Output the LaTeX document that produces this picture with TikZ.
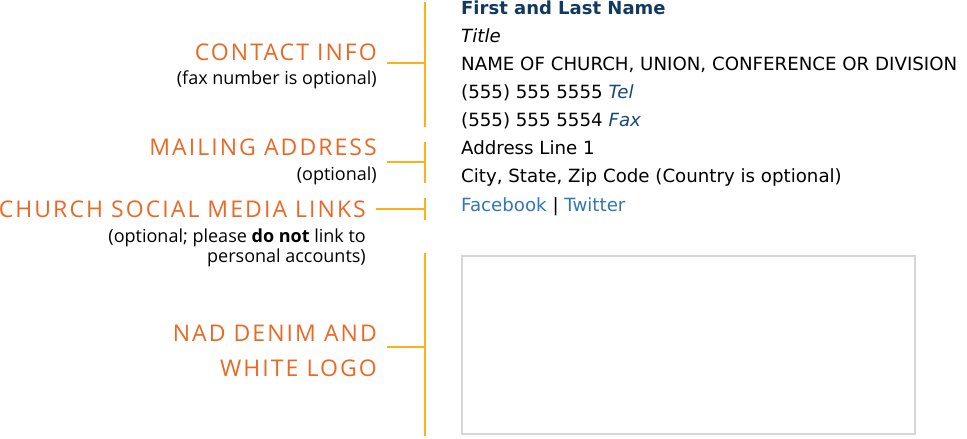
\documentclass[tikz,border=0pt]{standalone}
\usepackage{fontspec}
\setmainfont{Open Sans}
\newfontfamily\sigfont{DejaVu Sans}
\newfontfamily\capsfont[LetterSpace=9]{Open Sans}
\usetikzlibrary{positioning}
\definecolor{labelorange}{RGB}{234,104,36}
\definecolor{bracketgold}{RGB}{252,178,20}
\definecolor{namenavy}{RGB}{18,58,96}
\definecolor{fieldnavy}{RGB}{24,72,122}
\definecolor{linkblue}{RGB}{48,118,184}
\definecolor{boxgray}{RGB}{214,214,214}

\begin{document}
\begin{tikzpicture}[x=1pt, y=-1pt,
    heading/.style={anchor=base east, inner sep=0pt, text=labelorange,
        font=\capsfont\fontsize{23}{23}\selectfont},
    note/.style={anchor=base east, inner sep=0pt, font=\fontsize{18}{20}\selectfont},
    sigline/.style={anchor=base west, inner sep=0pt, font=\sigfont\fontsize{18.2}{18}\selectfont},
    bracket/.style={draw=bracketgold, line width=2pt}]
    \useasboundingbox (0,0) rectangle (967,439);
    % left side labels
    \node[heading] (contact) at (377, 60) {CONTACT INFO};
    \node[note] (faxnote) at (377, 84) {(fax number is optional)};
    \node[heading] (mailing) at (377, 155) {MAILING ADDRESS};
    \node[note] (mailnote) at (377, 180) {(optional)};
    \node[heading] (social) at (366, 217) {CHURCH SOCIAL MEDIA LINKS};
    \node[note] (socialnote) at (366, 242) {(optional; please \textbf{do not} link to};
    \node[note] (socialnote2) at (366, 262) {personal accounts)};
    \node[heading] (logo) at (377, 341) {NAD DENIM AND};
    \node[heading] (logo2) at (377, 376) {WHITE LOGO};
    % signature lines
    \node[sigline, text=namenavy, font=\sigfont\fontsize{18}{18}\selectfont\bfseries] (name) at (461, 14) {First and Last Name};
    \node[sigline] (title) at (461, 42) {\itshape Title};
    \node[sigline] (org) at (461, 70) {NAME OF CHURCH, UNION, CONFERENCE OR DIVISION};
    \node[sigline] (tel) at (461, 98) {(555) 555 5555 \textcolor{fieldnavy}{\itshape Tel}};
    \node[sigline] (fax) at (461, 126) {(555) 555 5554 \textcolor{fieldnavy}{\itshape Fax}};
    \node[sigline] (addr) at (461, 154) {Address Line 1};
    \node[sigline] (city) at (461, 182) {City, State, Zip Code (Country is optional)};
    \node[sigline] (links) at (461, 211) {\textcolor{linkblue}{Facebook} | \textcolor{linkblue}{Twitter}};
    % logo placeholder
    \node[draw=boxgray, line width=2pt, minimum width=453pt, minimum height=178pt,
        anchor=north west, inner sep=0pt] (logobox) at (461, 255) {};
    % brackets
    \coordinate (b1top) at (425, 2);
    \coordinate (b1bot) at (425, 127);
    \coordinate (b1tip) at (387, 63);
    \coordinate (b2top) at (425, 142);
    \coordinate (b2bot) at (425, 183);
    \coordinate (b2tip) at (387, 162);
    \coordinate (b3top) at (425, 198);
    \coordinate (b3bot) at (425, 220);
    \coordinate (b3tip) at (376, 209);
    \coordinate (b4top) at (425, 253);
    \coordinate (b4bot) at (425, 436);
    \coordinate (b4tip) at (387, 347);
    \foreach \b in {b1, b2, b3, b4} {
        \draw[bracket] (\b top) -- (\b bot);
        \draw[bracket] (\b tip) -- (\b top |- \b tip);
    }
\end{tikzpicture}
\end{document}
